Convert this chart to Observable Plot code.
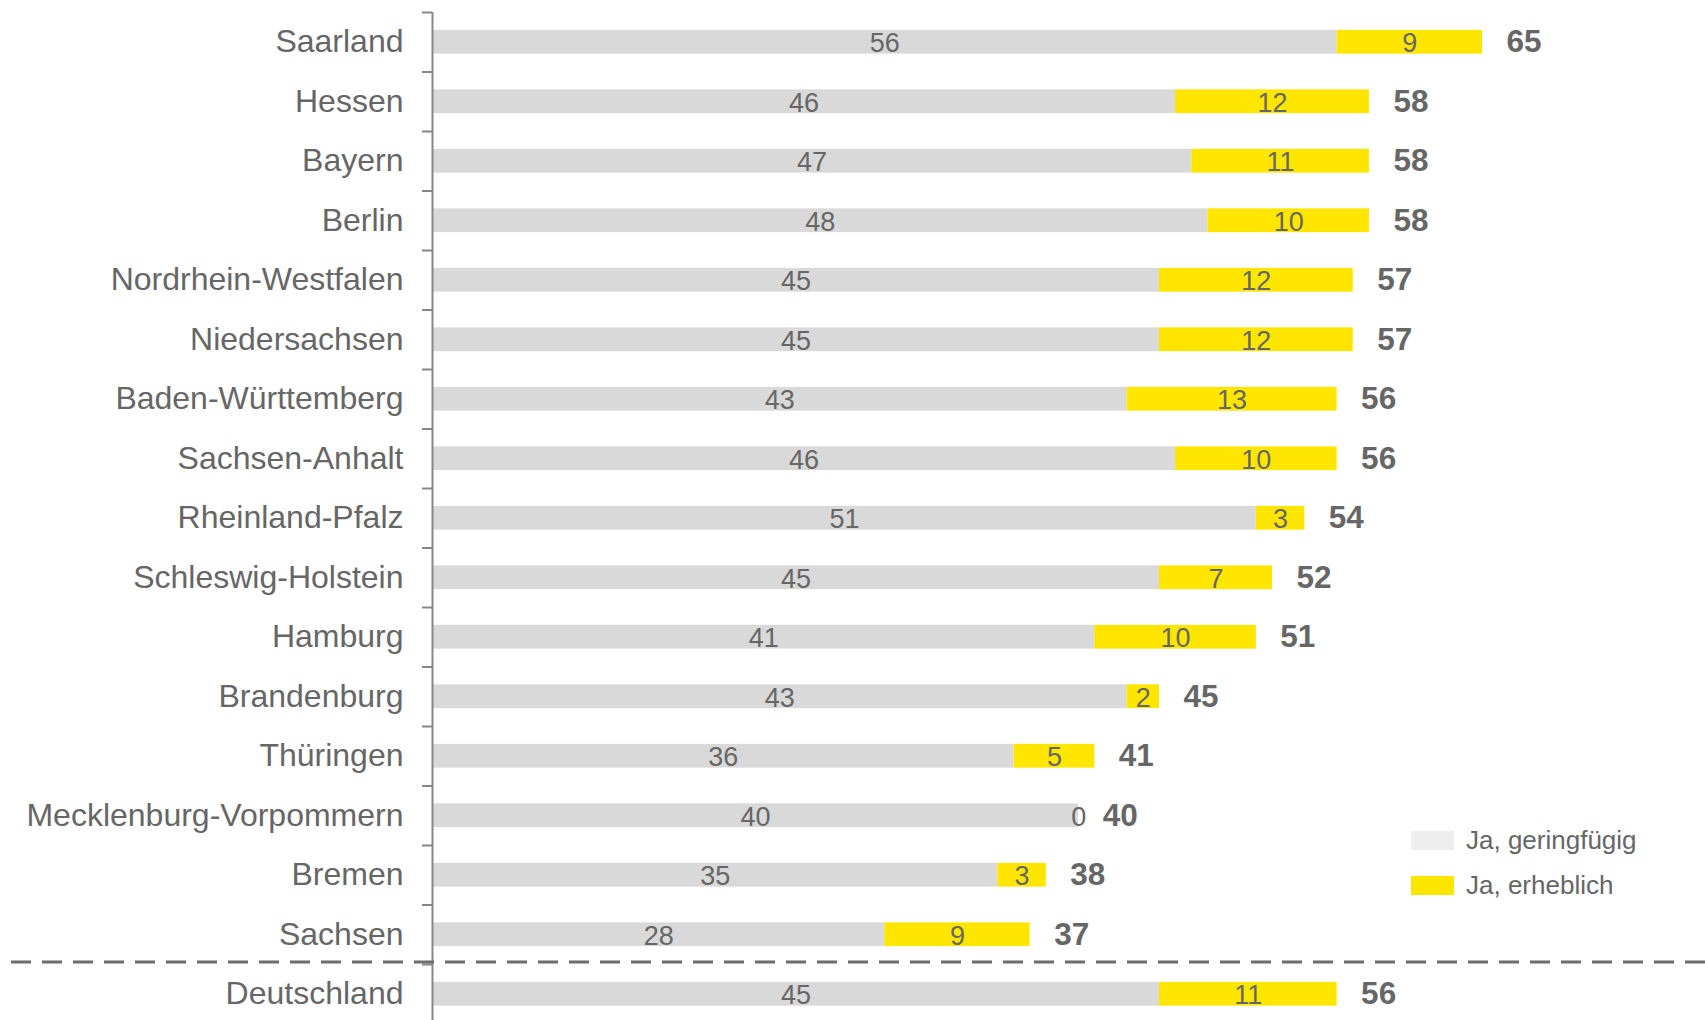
<!DOCTYPE html>
<html>
<head>
<meta charset="utf-8">
<script src="https://cdn.jsdelivr.net/npm/d3@7"></script>
<script src="https://cdn.jsdelivr.net/npm/@observablehq/plot@0.6"></script>
<style>
  html, body { margin: 0; padding: 0; background: #fff; }
  #wrap { position: relative; width: 1705px; height: 1020px; font-family: "Liberation Sans", Arial, sans-serif; }
  #legend { position: absolute; left: 1411px; top: 826px; color: #666; font-size: 26px; }
  #legend .item { display: flex; align-items: center; height: 28px; margin-bottom: 17px; }
  #legend .sw { width: 43px; height: 19px; margin-right: 12px; }
</style>
</head>
<body>
<div id="wrap">
  <div id="chart"></div>
  <div id="legend"></div>
</div>
<script>
const categories = ["Saarland", "Hessen", "Bayern", "Berlin", "Nordrhein-Westfalen", "Niedersachsen",
  "Baden-Württemberg", "Sachsen-Anhalt", "Rheinland-Pfalz", "Schleswig-Holstein", "Hamburg",
  "Brandenburg", "Thüringen", "Mecklenburg-Vorpommern", "Bremen", "Sachsen", "Deutschland"];
const geringfuegig = [56, 46, 47, 48, 45, 45, 43, 46, 51, 45, 41, 43, 36, 40, 35, 28, 45];
const erheblich = [9, 12, 11, 10, 12, 12, 13, 10, 3, 7, 10, 2, 5, 0, 3, 9, 11];
const gesamt = [65, 58, 58, 58, 57, 57, 56, 56, 54, 52, 51, 45, 41, 40, 38, 37, 56];
const seriesNames = ["Ja, geringfügig", "Ja, erheblich"];
const seriesColors = ["#d9d9d9", "#ffe600"];
const legendColors = ["#eeeeee", "#ffe600"];
const separatorBefore = "Deutschland";

const rows = categories.map((name, i) => ({
  name, g: geringfuegig[i], e: erheblich[i], t: gesamt[i]
}));

const yRange = [12, 1023.5];
const step = (yRange[1] - yRange[0]) / categories.length;
const textColor = "#666666";

const chart = Plot.plot({
  width: 1705,
  height: 1020,
  marginLeft: 11,
  marginRight: 0,
  marginTop: 12,
  marginBottom: 0,
  style: { fontFamily: "'Liberation Sans', Arial, sans-serif", background: "#fff" },
  x: { domain: [0, 65], range: [432, 1482], axis: null },
  y: { domain: categories, range: yRange, round: false, paddingInner: 0.6, paddingOuter: 0.3, axis: null },
  marks: [
    Plot.barX(rows, { y: "name", x1: 0, x2: "g", fill: seriesColors[0] }),
    Plot.barX(rows, { y: "name", x1: "g", x2: d => d.g + d.e, fill: seriesColors[1] }),
    Plot.text(rows, { y: "name", x: d => d.g / 2, text: d => String(d.g), fill: textColor, fontSize: 27, dy: 1.5 }),
    Plot.text(rows, { y: "name", x: d => d.g + d.e / 2, text: d => String(d.e), fill: textColor, fontSize: 27, dy: 1.5 }),
    Plot.text(rows, { y: "name", x: d => d.g + d.e, text: d => String(d.t), fill: textColor, fontSize: 31.5, fontWeight: "bold", textAnchor: "start", dx: 24, dy: 0 }),
    Plot.text(rows, { y: "name", x: 0, text: "name", fill: textColor, fontSize: 32, textAnchor: "end", dx: -29, dy: -0.5 }),
    Plot.ruleX([0], { stroke: "#878787", strokeWidth: 2 }),
    Plot.ruleY(categories, { y: d => d, x1: 0, x2: 0, insetLeft: -10, dy: -step / 2, stroke: "#878787", strokeWidth: 2 }),
    Plot.ruleY([separatorBefore], { y: d => d, dy: -step / 2 - 2.5, stroke: "#6d6d6d", strokeWidth: 3, strokeDasharray: "20,11" })
  ]
});
document.getElementById("chart").appendChild(chart);

const legend = document.getElementById("legend");
seriesNames.forEach((n, i) => {
  const item = document.createElement("div");
  item.className = "item";
  const sw = document.createElement("div");
  sw.className = "sw";
  sw.style.background = legendColors[i];
  const label = document.createElement("span");
  label.textContent = n;
  item.appendChild(sw);
  item.appendChild(label);
  legend.appendChild(item);
});
</script>
</body>
</html>
